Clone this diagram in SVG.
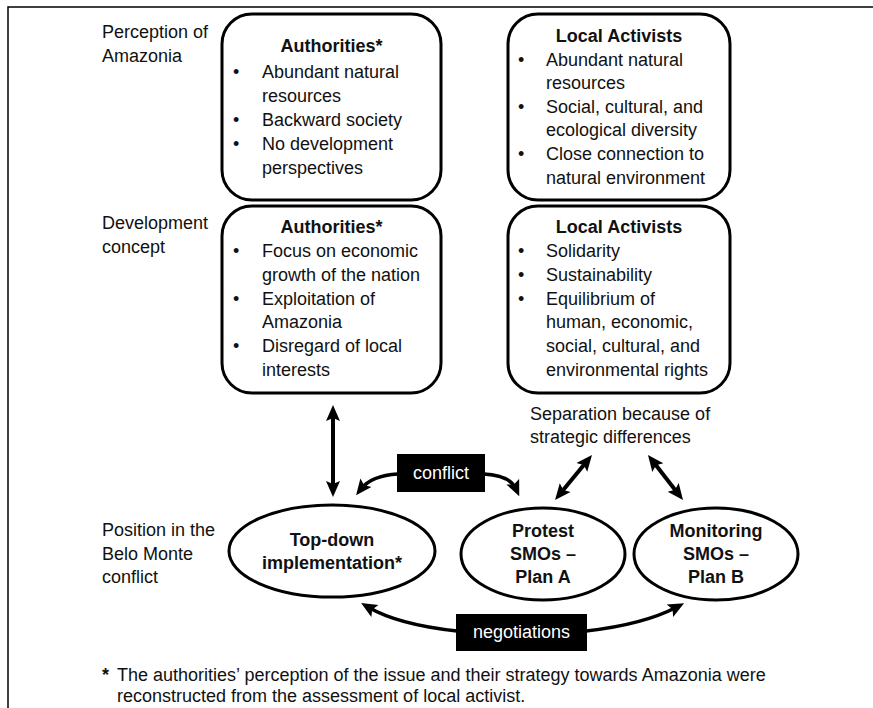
<svg xmlns="http://www.w3.org/2000/svg" width="873" height="708" viewBox="0 0 873 708">
<style>
  text { font-family: "Liberation Sans", Arial, sans-serif; font-size: 18px; fill: #111; }
  .b { font-weight: bold; }
  .c { text-anchor: middle; }
  .w { fill: #fff; }
  .box { fill: #fff; stroke: #000; stroke-width: 3; }
  .ell { fill: #fff; stroke: #000; stroke-width: 3; }
  .con { fill: none; stroke: #000; stroke-width: 4; marker-start: url(#ah); marker-end: url(#ah); }
  .con1 { fill: none; stroke: #000; stroke-width: 3.5; marker-end: url(#ah); }
  .frame { stroke: #000; stroke-width: 1.5; fill: none; }
</style>
<defs>
  <marker id="ah" viewBox="0 0 16 16" refX="8" refY="8" markerWidth="16" markerHeight="16" markerUnits="userSpaceOnUse" orient="auto-start-reverse">
    <path d="M0,1 L16,8 L0,15 L3,8 z" fill="#000"/>
  </marker>
</defs>
<rect width="873" height="708" fill="#fff"/>
<path class="frame" d="M8,708 L8,7 L873,7"/>

<g id="row-labels">
  <text x="102" y="38">Perception of</text>
  <text x="102" y="62">Amazonia</text>
  <text x="102" y="229">Development</text>
  <text x="102" y="253">concept</text>
  <text x="102" y="536">Position in the</text>
  <text x="102" y="560">Belo Monte</text>
  <text x="102" y="583">conflict</text>
</g>

<g id="auth-perception">
  <rect class="box" x="222" y="14" width="219" height="186" rx="30"/>
  <text class="b c" x="331.5" y="52">Authorities*</text>
  <text x="233" y="78">•</text><text x="262" y="78">Abundant natural</text>
  <text x="262" y="102">resources</text>
  <text x="233" y="126">•</text><text x="262" y="126">Backward society</text>
  <text x="233" y="150">•</text><text x="262" y="150">No development</text>
  <text x="262" y="174">perspectives</text>
</g>

<g id="act-perception">
  <rect class="box" x="508" y="14" width="222" height="186" rx="30"/>
  <text class="b c" x="619" y="42">Local Activists</text>
  <text x="518" y="66">•</text><text x="546" y="66">Abundant natural</text>
  <text x="546" y="89">resources</text>
  <text x="518" y="113">•</text><text x="546" y="113">Social, cultural, and</text>
  <text x="546" y="136">ecological diversity</text>
  <text x="518" y="160">•</text><text x="546" y="160">Close connection to</text>
  <text x="546" y="184">natural environment</text>
</g>

<g id="auth-development">
  <rect class="box" x="222" y="206" width="219" height="187" rx="30"/>
  <text class="b c" x="331.5" y="233">Authorities*</text>
  <text x="233" y="257">•</text><text x="262" y="257">Focus on economic</text>
  <text x="262" y="281">growth of the nation</text>
  <text x="233" y="305">•</text><text x="262" y="305">Exploitation of</text>
  <text x="262" y="328">Amazonia</text>
  <text x="233" y="352">•</text><text x="262" y="352">Disregard of local</text>
  <text x="262" y="376">interests</text>
</g>

<g id="act-development">
  <rect class="box" x="508" y="206" width="222" height="187" rx="30"/>
  <text class="b c" x="619" y="233">Local Activists</text>
  <text x="518" y="257">•</text><text x="546" y="257">Solidarity</text>
  <text x="518" y="281">•</text><text x="546" y="281">Sustainability</text>
  <text x="518" y="305">•</text><text x="546" y="305">Equilibrium of</text>
  <text x="546" y="328">human, economic,</text>
  <text x="546" y="352">social, cultural, and</text>
  <text x="546" y="376">environmental rights</text>
</g>

<g id="separation-label">
  <text x="530" y="420">Separation because of</text>
  <text x="530" y="443">strategic differences</text>
</g>

<g id="connectors">
  <path class="con" d="M333,413 L333,489"/>
  <path class="con" d="M586.9,461.2 L560.1,493.8"/>
  <path class="con" d="M652.9,461.3 L678.1,493.7"/>
  <path class="con1" d="M398,474 C380,475 368,480 361,489"/>
  <path class="con1" d="M484,474 C502,475 512,480 516,489"/>
  <path class="con1" d="M457,631 C420,627 390,620 368,607"/>
  <path class="con1" d="M586,631 C622,627 652,620 677,607"/>
</g>

<g id="conflict-label">
  <rect x="397" y="454" width="88" height="38" fill="#000"/>
  <text class="c w" x="441" y="479">conflict</text>
</g>

<g id="negotiations-label">
  <rect x="456" y="614" width="131" height="37" fill="#000"/>
  <text class="c w" x="521.5" y="638">negotiations</text>
</g>

<g id="top-down">
  <ellipse class="ell" cx="332" cy="551" rx="103" ry="46"/>
  <text class="b c" x="332" y="546">Top-down</text>
  <text class="b c" x="332" y="569">implementation*</text>
</g>

<g id="protest">
  <ellipse class="ell" cx="543" cy="554" rx="82" ry="46"/>
  <text class="b c" x="543" y="537">Protest</text>
  <text class="b c" x="543" y="560">SMOs –</text>
  <text class="b c" x="543" y="583">Plan A</text>
</g>

<g id="monitoring">
  <ellipse class="ell" cx="716" cy="554" rx="82" ry="46"/>
  <text class="b c" x="716" y="537">Monitoring</text>
  <text class="b c" x="716" y="560">SMOs –</text>
  <text class="b c" x="716" y="583">Plan B</text>
</g>

<g id="footnote">
  <text x="102" y="681" class="b">*</text>
  <text x="117" y="681">The authorities’ perception of the issue and their strategy towards Amazonia were</text>
  <text x="117" y="702">reconstructed from the assessment of local activist.</text>
</g>
</svg>
